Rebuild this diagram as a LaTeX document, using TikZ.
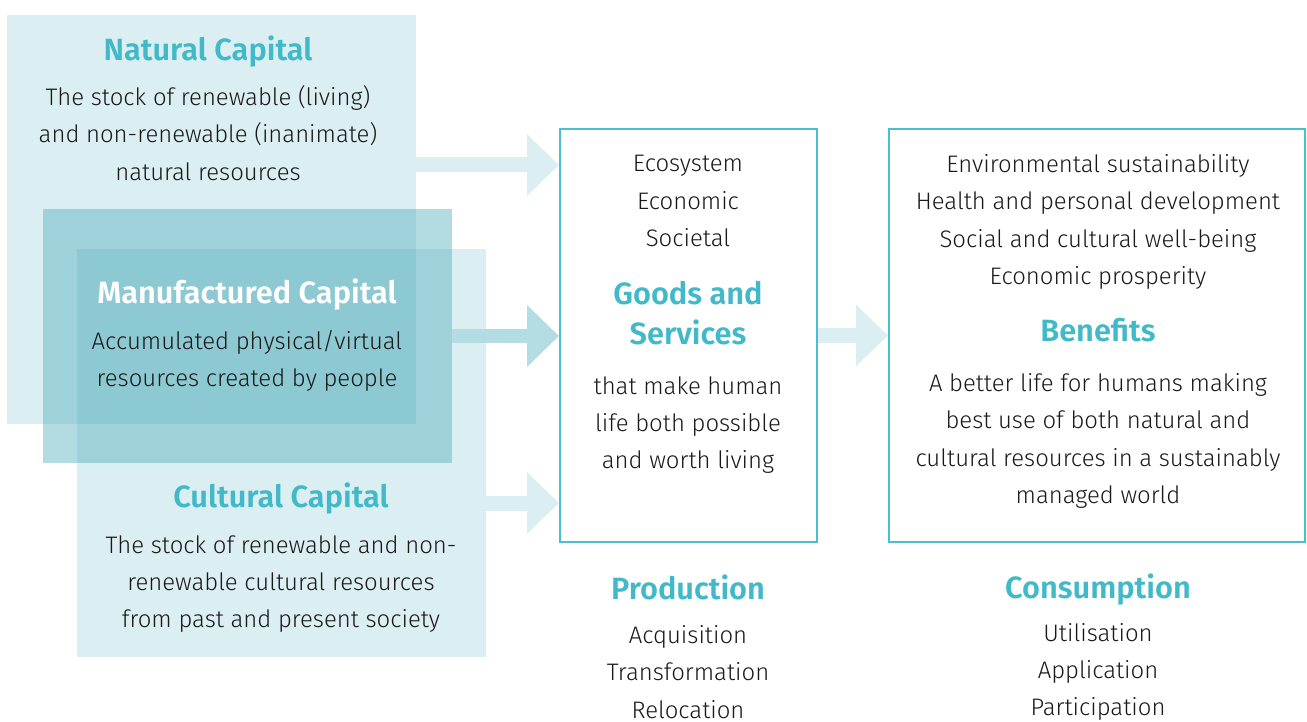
\documentclass[tikz,border=0pt]{standalone}
\usepackage{fontspec}
\setmainfont{Fira Sans Light}[BoldFont={Fira Sans SemiBold}]
\usetikzlibrary{arrows.meta,fit}

\definecolor{capbase}{RGB}{75,170,185}
\definecolor{headteal}{RGB}{65,185,201}
\definecolor{framecol}{RGB}{75,191,204}
\definecolor{arrowlight}{RGB}{219,238,241}
\definecolor{arrowmid}{RGB}{180,221,227}
\definecolor{txt}{RGB}{25,25,25}

\tikzset{
  capbox/.style={fill=capbase, inner sep=0pt},
  framebox/.style={draw=framecol, line width=0.04cm, inner sep=0pt},
  heading/.style={align=center, text=headteal, font=\fontsize{17.5}{22.8}\selectfont\bfseries},
  body/.style={align=center, text=txt, font=\fontsize{13.6}{21.2}\selectfont},
  blockarrow/.style={line width=0.3cm, -{Triangle[length=0.64cm,width=1.2cm]}},
}

\begin{document}
\begin{tikzpicture}[x=0.02cm, y=-0.02cm]
    \useasboundingbox (0,0) rectangle (1307,722);
    % capital boxes
    \node[capbox, fill opacity=0.2,  fit={(7,15) (416,424)}]  (natural)  {};
    \node[capbox, fill opacity=0.42, fit={(43,209) (452,463)}] (manuf)    {};
    \node[capbox, fill opacity=0.2,  fit={(77,249) (486,657)}] (cultural) {};
    % production / consumption frames
    \node[framebox, fit={(560,129) (817,542)}]  (goods)    {};
    \node[framebox, fit={(889,129) (1305,542)}] (benefits) {};

    \node[heading] (naturalhead) at (208,52)  {Natural Capital};
    \node[body]    (naturaltext) at (208,133) {The stock of renewable (living) \\ and non-renewable (inanimate) \\ natural resources};
    \node[heading, text=white] (manufhead) at (247,295) {Manufactured Capital};
    \node[body]    (manuftext)   at (247,361) {Accumulated physical/virtual \\ resources created by people};
    \node[heading] (culturalhead) at (281,499) {Cultural Capital};
    \node[body]    (culturaltext) at (281,584) {The stock of renewable and non- \\ renewable cultural resources \\ from past and present society};

    \node[body]    (goodslist) at (688,201) {Ecosystem \\ Economic \\ Societal};
    \node[heading] (goodshead) at (688,313) {Goods and \\ Services};
    \node[body]    (goodstext) at (688,425) {that make human \\ life both possible \\ and worth living};

    \node[body]    (benefitslist) at (1098,222) {Environmental sustainability \\ Health and personal development \\ Social and cultural well-being \\ Economic prosperity};
    \node[heading] (benefitshead) at (1098,330) {Benefits};
    \node[body]    (benefitstext) at (1098,441) {A better life for humans making \\ best use of both natural and \\ cultural resources in a sustainably \\ managed world};

    \node[heading] (prodhead) at (688,587)  {Production};
    \node[body]    (prodlist) at (688,672)  {Acquisition \\ Transformation \\ Relocation};
    \node[heading] (conshead) at (1098,590) {Consumption};
    \node[body]    (conslist) at (1098,672) {Utilisation \\ Application \\ Participation};

    % flows
    \coordinate (naturalin)  at (560,165);
    \coordinate (culturalin) at (560,503);
    \draw[blockarrow, arrowlight] (natural.east |- naturalin) -- (goods.west |- naturalin);
    \draw[blockarrow, arrowmid]   (manuf.east) -- (goods.west |- manuf.east);
    \draw[blockarrow, arrowlight] (cultural.east |- culturalin) -- (goods.west |- culturalin);
    \draw[blockarrow, arrowlight] (goods.east) -- (benefits.west);
\end{tikzpicture}
\end{document}
